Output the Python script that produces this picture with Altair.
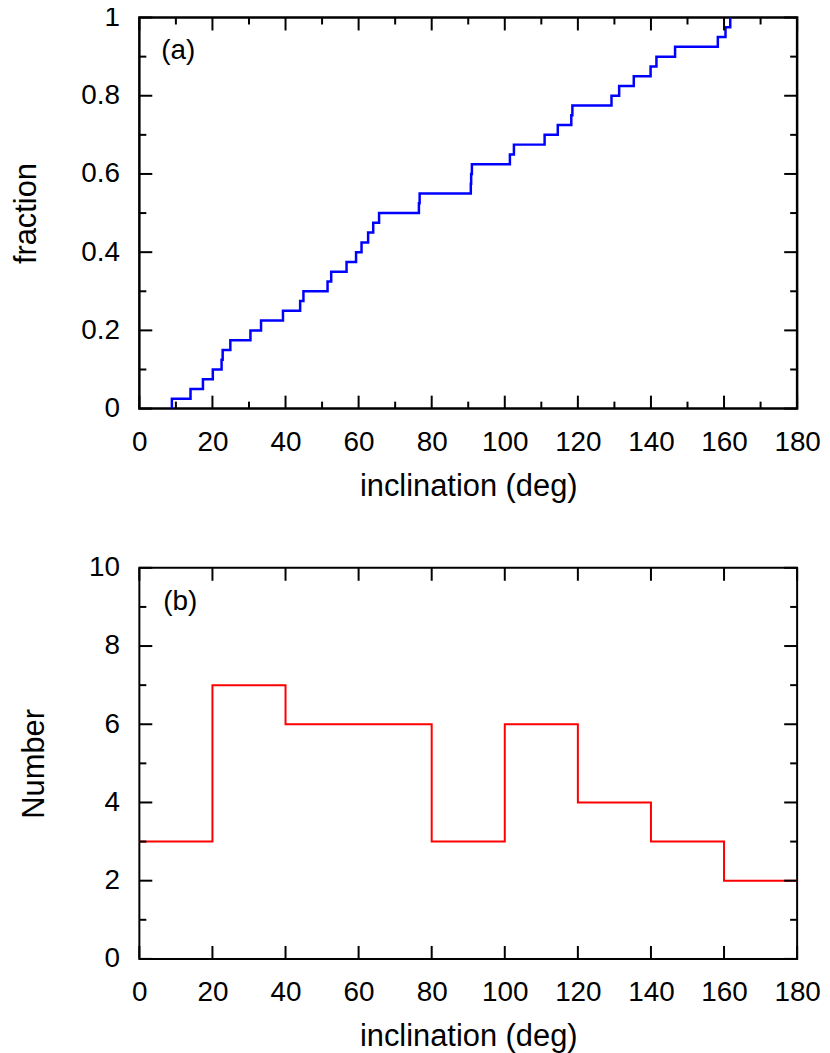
import altair as alt
import pandas as pd

# ---- data ----
inclination = [8.9, 14.0, 17.4, 20.1, 22.5, 22.8, 24.9, 30.4, 33.3, 39.3,
               44.0, 44.9, 51.5, 52.5, 56.7, 59.3, 60.8, 62.6, 64.0, 65.6,
               76.5, 76.7, 90.7, 90.8, 91.0, 101.4, 102.5, 110.9, 114.5, 118.2,
               118.5, 129.2, 131.3, 135.3, 139.9, 141.5, 146.6, 158.3, 160.4, 161.7]
bin_start = [0, 20, 40, 60, 80, 100, 120, 140, 160]
bin_width = 20
counts = [3, 7, 6, 6, 3, 6, 4, 3, 2]

x_major = [0, 20, 40, 60, 80, 100, 120, 140, 160, 180]
x_minor_a = [10, 30, 50, 70, 90, 110, 130, 150, 170]
y_major_a = [0, 0.2, 0.4, 0.6, 0.8, 1]
y_minor_a = [0.1, 0.3, 0.5, 0.7, 0.9]
y_major_b = [0, 2, 4, 6, 8, 10]
y_minor_b = [1, 3, 5, 7, 9]

# ---- style ----
W, H = 661, 393
FONT = "Liberation Sans"
LBL = 28
TTL = 31
MAJ, MIN = 13, 7

xs = alt.Scale(domain=[0, 180], nice=False, zero=False)
ys_a = alt.Scale(domain=[0, 1], nice=False)
ys_b = alt.Scale(domain=[0, 10], nice=False)


def x_axis():
    return alt.Axis(values=x_major, format="d", ticks=False, domain=False, grid=False,
                    labelFont=FONT, labelFontSize=LBL, labelColor="black", labelPadding=20,
                    labelFlush=False, labelOverlap=False, labelBound=False,
                    title="inclination (deg)", titleFont=FONT, titleFontSize=TTL,
                    titleFontWeight="normal", titleColor="black",
                    titleBaseline="alphabetic", titleY=87)


def y_axis(vals, fmt, title, tx):
    return alt.Axis(values=vals, format=fmt, ticks=False, domain=False, grid=False,
                    labelFont=FONT, labelFontSize=LBL, labelColor="black", labelPadding=20,
                    labelFlush=False, labelOverlap=False, labelBound=False,
                    title=title, titleFont=FONT, titleFontSize=TTL,
                    titleFontWeight="normal", titleColor="black",
                    titleBaseline="alphabetic", titleX=tx, titleY=H / 2, titleAngle=270)


def xticks(vals, length, sw):
    base = alt.Chart(pd.DataFrame({"t": vals}))
    b = base.mark_rule(color="black", strokeWidth=sw).encode(
        x=alt.X("t:Q", scale=xs), y=alt.value(H), y2=alt.value(H - length))
    t = base.mark_rule(color="black", strokeWidth=sw).encode(
        x=alt.X("t:Q", scale=xs), y=alt.value(0), y2=alt.value(length))
    return [b, t]


def yticks(vals, length, scale, sw):
    base = alt.Chart(pd.DataFrame({"t": vals}))
    l = base.mark_rule(color="black", strokeWidth=sw).encode(
        y=alt.Y("t:Q", scale=scale), x=alt.value(0), x2=alt.value(length))
    r = base.mark_rule(color="black", strokeWidth=sw).encode(
        y=alt.Y("t:Q", scale=scale), x=alt.value(W), x2=alt.value(W - length))
    return [l, r]


# ---- panel (a): cumulative fraction ----
df_a = pd.DataFrame({"incl": inclination})
line_a = (
    alt.Chart(df_a)
    .transform_window(rank="row_number()", sort=[alt.SortField("incl")])
    .transform_joinaggregate(total="count()")
    .transform_calculate(lo="(datum.rank - 1) / datum.total", hi="datum.rank / datum.total")
    .transform_fold(["lo", "hi"], as_=["k", "frac"])
    .mark_line(color="#0000ff", strokeWidth=2.5)
    .encode(
        x=alt.X("incl:Q", scale=xs, axis=x_axis()),
        y=alt.Y("frac:Q", scale=ys_a, axis=y_axis(y_major_a, ".1~f", "fraction", -104)),
        order=[alt.Order("frac:Q"), alt.Order("incl:Q")],
    )
)
lab_a = alt.Chart(pd.DataFrame({"t": ["(a)"]})).mark_text(
    align="left", baseline="middle", font=FONT, fontSize=LBL, color="black"
).encode(x=alt.value(22), y=alt.value(34), text="t:N")

panel_a = alt.layer(
    line_a,
    *xticks(x_major, MAJ, 2), *xticks(x_minor_a, MIN, 2),
    *yticks(y_major_a, MAJ, ys_a, 2), *yticks(y_minor_a, MIN, ys_a, 2),
    lab_a,
).properties(width=W, height=H, view=alt.ViewBackground(stroke="black", strokeWidth=2.5))

# ---- panel (b): histogram ----
df_b = pd.DataFrame({"start": bin_start, "count": counts})
line_b = (
    alt.Chart(df_b)
    .transform_calculate(end=f"datum.start + {bin_width}", s0="datum.start")
    .transform_fold(["s0", "end"], as_=["k", "edge"])
    .mark_line(color="#ff0000", strokeWidth=2)
    .encode(
        x=alt.X("edge:Q", scale=xs, axis=x_axis()),
        y=alt.Y("count:Q", scale=ys_b, axis=y_axis(y_major_b, "d", "Number", -96)),
        order=[alt.Order("edge:Q"), alt.Order("start:Q")],
    )
)
lab_b = alt.Chart(pd.DataFrame({"t": ["(b)"]})).mark_text(
    align="left", baseline="middle", font=FONT, fontSize=LBL, color="black"
).encode(x=alt.value(24), y=alt.value(34), text="t:N")

panel_b = alt.layer(
    line_b,
    *xticks(x_major, MAJ, 2),
    *yticks(y_major_b, MAJ, ys_b, 2), *yticks(y_minor_b, MIN, ys_b, 2),
    lab_b,
).properties(width=W, height=H, view=alt.ViewBackground(stroke="black", strokeWidth=2))

chart = alt.vconcat(panel_a, panel_b, spacing=50).properties(
    padding={"left": 1, "top": -9, "right": 0, "bottom": 0},
    background="white",
)

chart.save("out.html", embed_options={"renderer": "svg", "actions": False})
